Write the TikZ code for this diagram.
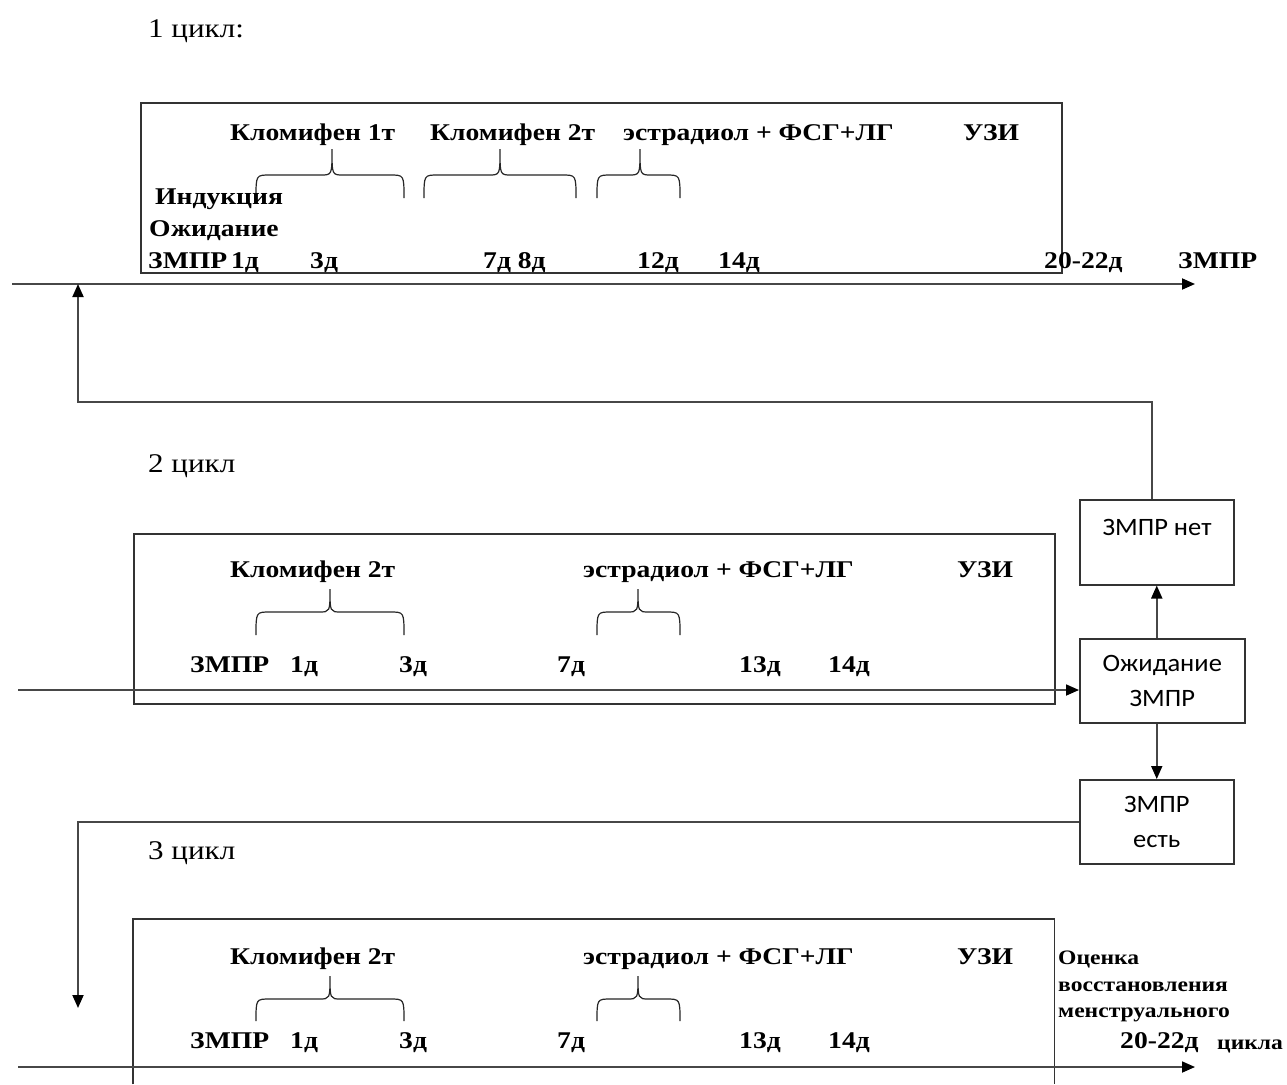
\documentclass[tikz,border=0pt]{standalone}
\usepackage{fontspec}
\setmainfont{Liberation Serif}[FakeStretch=1.15]
\newfontfamily\boxfont{Carlito}[FakeStretch=1.06]
\usetikzlibrary{arrows.meta}
\tikzset{
  lbl/.style={font=\fontsize{24}{26}\selectfont\bfseries, inner sep=0pt, anchor=base west},
  small/.style={font=\fontsize{20.5}{22}\selectfont\bfseries, inner sep=0pt, anchor=base west},
  ttl/.style={font=\fontsize{27}{29}\selectfont, inner sep=0pt, anchor=base west},
  frame/.style={draw=black!80, line width=1.5pt, inner sep=0pt},
  sbox/.style={draw=black!80, line width=1.5pt, inner sep=0pt, font=\boxfont\fontsize{25}{35}\selectfont, align=center},
  axis/.style={draw=black!72, line width=1.8pt},
  arr/.style={-{Triangle[length=13pt,width=11pt,color=black]}},
  brc/.style={draw=black!85, line width=1.2pt},
}
\newcommand\cbrace[6]{%
  \draw[brc] (#1,#6) .. controls (#1,#5) and (#1,#5) .. (#1+14,#5) -- (#2-11,#5)
    .. controls (#2,#5) and (#2,#5) .. (#2,#4)
    .. controls (#2,#5) and (#2,#5) .. (#2+11,#5) -- (#3-14,#5)
    .. controls (#3,#5) and (#3,#5) .. (#3,#6);}
\begin{document}
\begin{tikzpicture}[x=1pt,y=-1pt]
\useasboundingbox[fill=white] (0,0) rectangle (1287,1084);

% ---------- cycle 1 ----------
\node[ttl] (t1) at (148,37) {1 цикл:};
\node[frame, minimum width=921pt, minimum height=170pt, anchor=north west] (box1) at (140,102) {};
\node[lbl] (k1a) at (230,140) {Кломифен 1т};
\node[lbl] (k1b) at (430,140) {Кломифен 2т};
\node[lbl] (e1) at (623,140) {эстрадиол + ФСГ+ЛГ};
\node[lbl] (u1) at (963,140) {УЗИ};
\cbrace{256}{332}{404}{149}{175}{198}
\cbrace{424}{500}{576}{149}{175}{198}
\cbrace{597}{640}{680}{149}{175}{198}
\node[lbl] (ind) at (155,204) {Индукция};
\node[lbl] (ozh) at (149,236) {Ожидание};
\node[lbl] (z1) at (148,268) {ЗМПР\,1д};
\node[lbl] (d13) at (310,268) {3д};
\node[lbl] (d17) at (483,268) {7д 8д};
\node[lbl] (d112) at (637,268) {12д};
\node[lbl] (d114) at (718,268) {14д};
\node[lbl] (d120) at (1044,268) {20-22д};
\node[lbl] (z1r) at (1178,268) {ЗМПР};
\coordinate (a1s) at (12,284);
\coordinate (a1e) at (1195,284);
\draw[axis, arr] (a1s) -- (a1e);

% ---------- cycle 2 ----------
\node[ttl] (t2) at (148,472) {2 цикл};
\node[frame, minimum width=921pt, minimum height=170pt, anchor=north west] (box2) at (133,533) {};
\node[lbl] (k2) at (230,577) {Кломифен 2т};
\node[lbl] (e2) at (583,577) {эстрадиол + ФСГ+ЛГ};
\node[lbl] (u2) at (957,577) {УЗИ};
\cbrace{256}{330}{404}{589}{612}{635}
\cbrace{597}{638}{680}{589}{612}{635}
\node[lbl] (z2) at (190,672) {ЗМПР};
\node[lbl] (d21) at (290,672) {1д};
\node[lbl] (d23) at (399,672) {3д};
\node[lbl] (d27) at (557,672) {7д};
\node[lbl] (d213) at (739,672) {13д};
\node[lbl] (d214) at (828,672) {14д};

% ---------- right boxes ----------
\node[sbox, minimum width=154pt, minimum height=85pt, anchor=north west] (net) at (1079,499) {};
\node[font=\boxfont\fontsize{25}{28}\selectfont, inner sep=0pt] (nett) at (1157,527) {ЗМПР нет};
\node[sbox, minimum width=165pt, minimum height=84pt, anchor=north west] (wait) at (1079,638) {Ожидание\\ЗМПР};
\node[sbox, minimum width=154pt, minimum height=84pt, anchor=north west] (est) at (1079,779) {ЗМПР\\есть};

\coordinate (a2s) at (18,690);
\draw[axis, arr] (a2s) -- (a2s -| wait.west);
\draw[axis, arr] (wait.north -| net.south) -- (net.south);
\draw[axis, arr] (wait.south -| est.north) -- (est.north);
\coordinate (up1) at (1152,402);
\coordinate (up2) at (78,402);
\draw[axis, arr] (net.north -| up1) -- (up1) -- (up2) -- (up2 |- a1s);
\coordinate (dn1) at (78,822);
\coordinate (dn2) at (78,1008);
\draw[axis, arr] (est.west |- dn1) -- (dn1) -- (dn2);

% ---------- cycle 3 ----------
\node[ttl] (t3) at (148,859) {3 цикл};
\node[minimum width=921pt, minimum height=165pt, inner sep=0pt, anchor=north west] (box3) at (133,919) {};
\draw[draw=black!80, line width=1.5pt] (box3.south west) -- (box3.north west) -- (box3.north east) -- (box3.south east);
\node[lbl] (k3) at (230,964) {Кломифен 2т};
\node[lbl] (e3) at (583,964) {эстрадиол + ФСГ+ЛГ};
\node[lbl] (u3) at (957,964) {УЗИ};
\cbrace{256}{330}{404}{976}{999}{1021}
\cbrace{597}{638}{680}{976}{999}{1021}
\node[lbl] (z3) at (190,1048) {ЗМПР};
\node[lbl] (d31) at (290,1048) {1д};
\node[lbl] (d33) at (399,1048) {3д};
\node[lbl] (d37) at (557,1048) {7д};
\node[lbl] (d313) at (739,1048) {13д};
\node[lbl] (d314) at (828,1048) {14д};
\node[small] (o1) at (1058,964) {Оценка};
\node[small] (o2) at (1058,991) {восстановления};
\node[small] (o3) at (1058,1017) {менструального};
\node[lbl] (d320) at (1120,1048) {20-22д};
\node[small] (o4) at (1217,1049) {цикла};
\coordinate (a3s) at (18,1067);
\coordinate (a3e) at (1195,1067);
\draw[axis, arr] (a3s) -- (a3e);
\end{tikzpicture}
\end{document}
